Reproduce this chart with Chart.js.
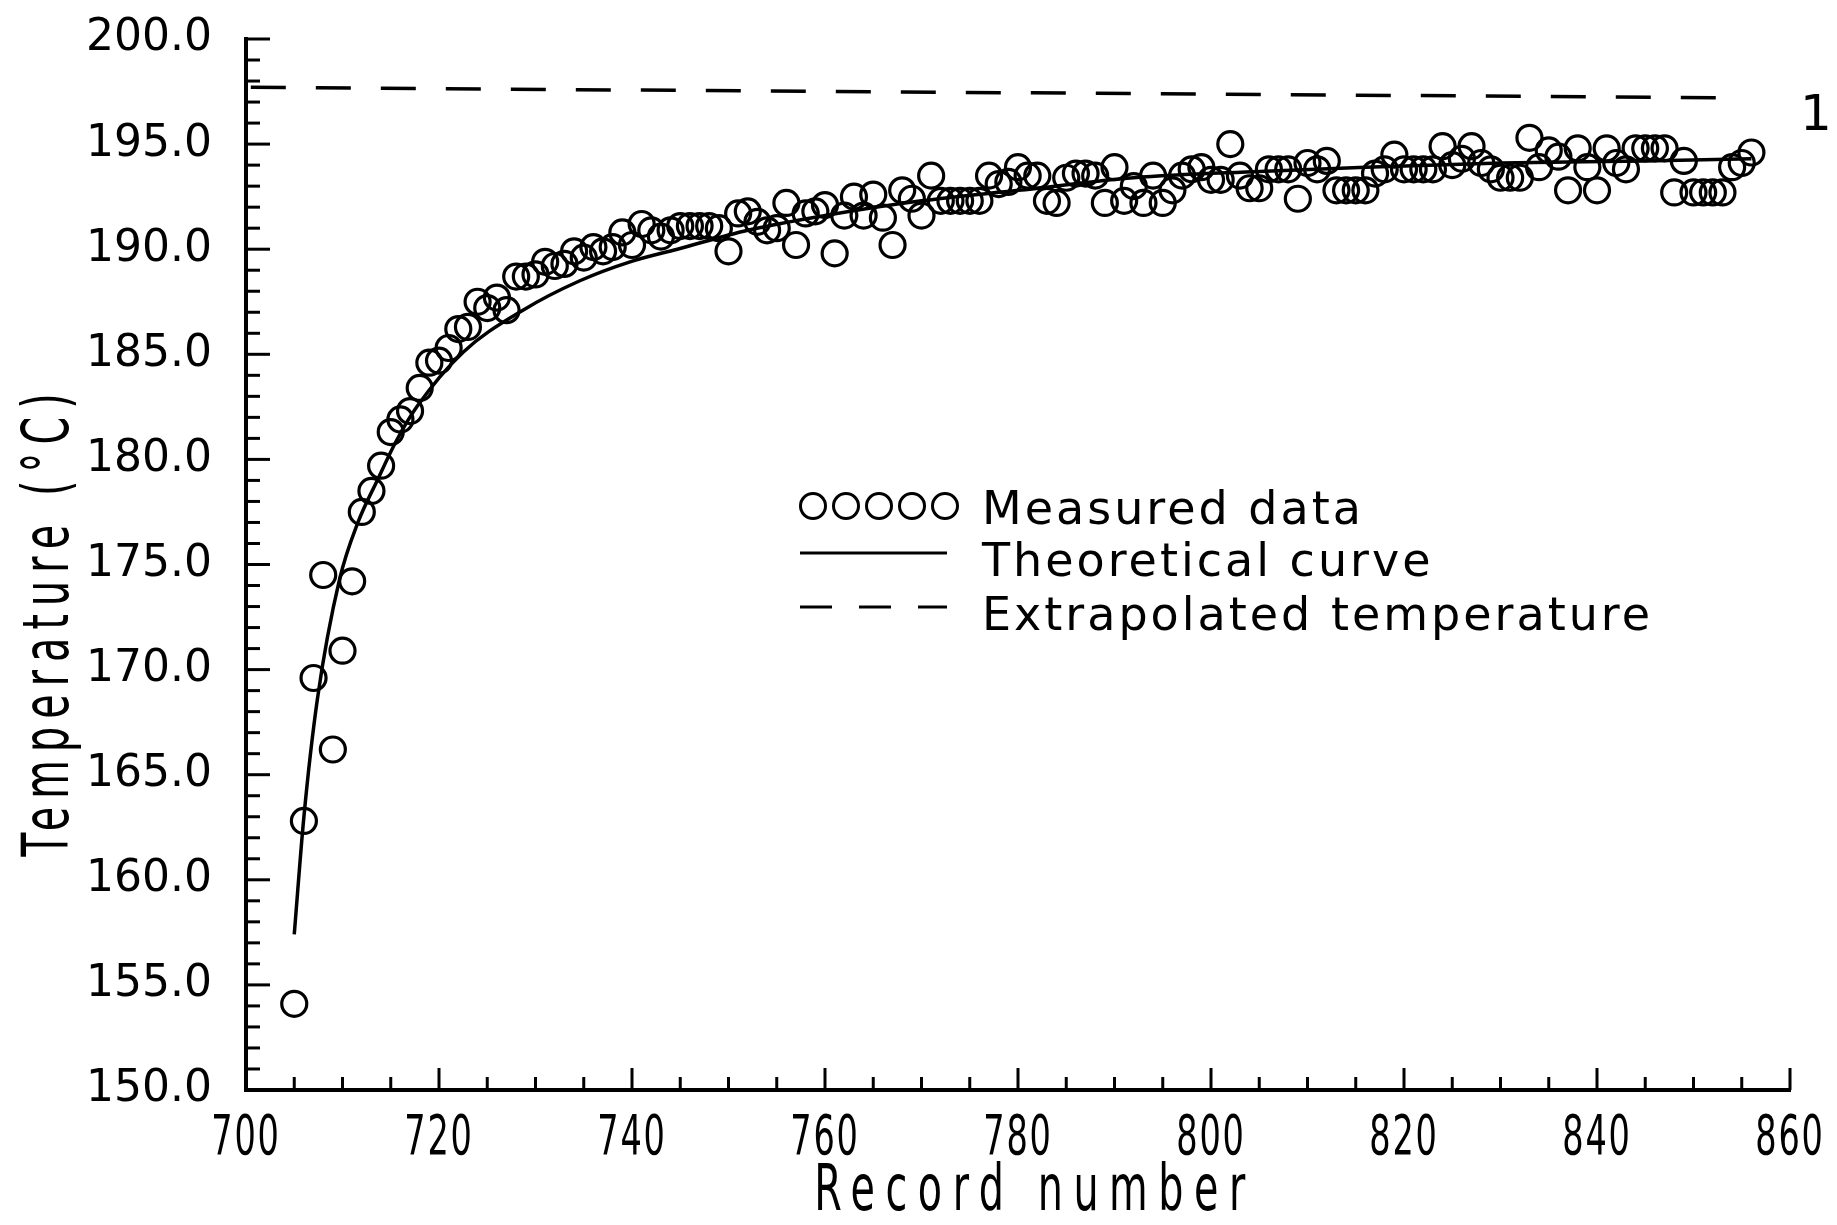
<!DOCTYPE html>
<html>
<head>
<meta charset="utf-8">
<script src="https://cdn.jsdelivr.net/npm/chart.js@4.4.1/dist/chart.umd.min.js"></script>
<style>
  html, body { margin: 0; background: #fff; }
  #wrap { width: 1837px; height: 1225px; }
</style>
</head>
<body>
<div id="wrap"><canvas id="chart" width="1837" height="1225"></canvas></div>
<script>
// measured records, one circle per record
const recordNumbers = [
  705, 706, 707, 708, 709, 710, 711, 712, 713, 714, 715, 716, 717, 718, 719, 720,
  721, 722, 723, 724, 725, 726, 727, 728, 729, 730, 731, 732, 733, 734, 735, 736,
  737, 738, 739, 740, 741, 742, 743, 744, 745, 746, 747, 748, 749, 750, 751, 752,
  753, 754, 755, 756, 757, 758, 759, 760, 761, 762, 763, 764, 765, 766, 767, 768,
  769, 770, 771, 772, 773, 774, 775, 776, 777, 778, 779, 780, 781, 782, 783, 784,
  785, 786, 787, 788, 789, 790, 791, 792, 793, 794, 795, 796, 797, 798, 799, 800,
  801, 802, 803, 804, 805, 806, 807, 808, 809, 810, 811, 812, 813, 814, 815, 816,
  817, 818, 819, 820, 821, 822, 823, 824, 825, 826, 827, 828, 829, 830, 831, 832,
  833, 834, 835, 836, 837, 838, 839, 840, 841, 842, 843, 844, 845, 846, 847, 848,
  849, 850, 851, 852, 853, 854, 855, 856
]
const measuredTemps = [
  154.1, 162.8, 169.6, 174.5, 166.2, 170.9, 174.2, 177.5, 178.5, 179.7, 181.3, 181.9, 182.3, 183.4, 184.6, 184.7,
  185.3, 186.2, 186.3, 187.5, 187.2, 187.7, 187.1, 188.7, 188.7, 188.8, 189.4, 189.2, 189.3, 189.9, 189.6, 190.1,
  189.9, 190.1, 190.8, 190.2, 191.2, 190.9, 190.6, 190.9, 191.1, 191.1, 191.1, 191.1, 191.0, 189.9, 191.7, 191.8,
  191.3, 190.9, 191.0, 192.2, 190.2, 191.7, 191.8, 192.1, 189.8, 191.6, 192.5, 191.6, 192.6, 191.5, 190.2, 192.8,
  192.4, 191.6, 193.5, 192.3, 192.3, 192.3, 192.3, 192.3, 193.5, 193.1, 193.2, 193.9, 193.5, 193.5, 192.3, 192.2,
  193.4, 193.6, 193.6, 193.5, 192.2, 193.9, 192.3, 193.0, 192.2, 193.5, 192.2, 192.8, 193.5, 193.8, 193.9, 193.3,
  193.3, 195.0, 193.5, 192.9, 192.9, 193.8, 193.8, 193.8, 192.4, 194.1, 193.8, 194.2, 192.8, 192.8, 192.8, 192.8,
  193.6, 193.8, 194.5, 193.8, 193.8, 193.8, 193.8, 194.9, 194.0, 194.3, 194.9, 194.1, 193.8, 193.4, 193.4, 193.4,
  195.3, 193.9, 194.7, 194.4, 192.8, 194.8, 193.9, 192.8, 194.8, 194.1, 193.8, 194.8, 194.8, 194.8, 194.8, 192.7,
  194.2, 192.7, 192.7, 192.7, 192.7, 193.9, 194.1, 194.6
]

// theoretical curve
const curveRecords = [705, 706, 707.4, 709.7, 711.6, 713.6, 715.6, 717.7, 722.5, 728.7, 734.6, 739.8, 744.7, 752, 760, 770, 780, 792, 805, 816, 830, 845, 856]
const curveTemps = [157.4, 163.0, 168.6, 174.3, 177.0, 179.0, 180.9, 182.5, 185.1, 187.1, 188.5, 189.4, 190.0, 190.9, 191.6, 192.3, 192.8, 193.4, 193.7, 193.9, 194.1, 194.2, 194.3]

// extrapolated temperature (dashed)
const extrapRecords = [700.5, 855]
const extrapTemps = [197.7, 197.2]

const xTickValues = [700, 720, 740, 760, 780, 800, 820, 840, 860]
const yTickValues = [150, 155, 160, 165, 170, 175, 180, 185, 190, 195, 200]

const toPoints = (xs, ys) => xs.map((x, i) => ({ x: x, y: ys[i] }))

const SANS = "'DejaVu Sans', sans-serif"

// the original uses a tall narrow face, squeeze DejaVu horizontally
function squeezedText(ctx, text, x, y, sx, spacing) {
  ctx.save()
  ctx.translate(x, y)
  ctx.scale(sx, 1)
  ctx.letterSpacing = spacing + "px"
  ctx.fillText(text, 0, 0)
  ctx.restore()
}

const inwardTicks = {
  id: "inwardTicks",
  afterDatasetsDraw(chart) {
    const { ctx, chartArea, scales } = chart
    ctx.save()
    ctx.strokeStyle = "#000"
    ctx.lineWidth = 3
    for (let v = 150; v <= 200; v++) {
      const py = scales.y.getPixelForValue(v)
      const len = v % 5 === 0 ? 24 : 14
      ctx.beginPath()
      ctx.moveTo(chartArea.left, py)
      ctx.lineTo(chartArea.left + len, py)
      ctx.stroke()
    }
    for (let v = 700; v <= 860; v += 5) {
      const px = scales.x.getPixelForValue(v)
      const len = v % 20 === 0 ? 22 : 13
      ctx.beginPath()
      ctx.moveTo(px, chartArea.bottom)
      ctx.lineTo(px, chartArea.bottom - len)
      ctx.stroke()
    }

    // x tick labels
    ctx.fillStyle = "#000"
    ctx.font = "56px " + SANS
    ctx.textAlign = "center"
    ctx.textBaseline = "alphabetic"
    xTickValues.forEach((v) => {
      squeezedText(ctx, String(v), scales.x.getPixelForValue(v), chartArea.bottom + 64, 0.6, 3)
    })
    ctx.restore()
  }
}

const textBits = {
  id: "textBits",
  afterDraw(chart) {
    const { ctx } = chart
    ctx.save()
    ctx.fillStyle = "#000"
    ctx.strokeStyle = "#000"

    // axis titles
    ctx.font = "64px " + SANS
    ctx.textAlign = "center"
    ctx.textBaseline = "alphabetic"
    squeezedText(ctx, "Record number", 1035, 1210, 0.62, 17)
    ctx.save()
    ctx.translate(68, 621)
    ctx.rotate(-Math.PI / 2)
    squeezedText(ctx, "Temperature (°C)", 0, 0, 0.62, 13)
    ctx.restore()

    // legend
    ctx.lineWidth = 3
    for (let i = 0; i < 5; i++) {
      ctx.beginPath()
      ctx.arc(813 + i * 33, 506, 12.5, 0, Math.PI * 2)
      ctx.stroke()
    }
    ctx.beginPath()
    ctx.moveTo(800, 553)
    ctx.lineTo(947, 553)
    ctx.stroke()
    ctx.setLineDash([32, 27])
    ctx.beginPath()
    ctx.moveTo(800, 607)
    ctx.lineTo(947, 607)
    ctx.stroke()
    ctx.setLineDash([])

    ctx.font = "46px " + SANS
    ctx.letterSpacing = "3px"
    ctx.textAlign = "left"
    ctx.fillText("Measured data", 982, 524)
    ctx.fillText("Theoretical curve", 982, 576)
    ctx.fillText("Extrapolated temperature", 982, 630)

    // label at the end of the dashed line
    ctx.letterSpacing = "0px"
    ctx.font = "50px " + SANS
    ctx.fillText("1", 1800, 130)
    ctx.restore()
  }
}

new Chart(document.getElementById("chart"), {
  type: "scatter",
  data: {
    datasets: [
      {
        label: "Extrapolated temperature",
        data: toPoints(extrapRecords, extrapTemps),
        showLine: true,
        borderColor: "#000",
        borderWidth: 3.5,
        borderDash: [35, 30],
        pointRadius: 0,
        fill: false,
      },
      {
        label: "Theoretical curve",
        data: toPoints(curveRecords, curveTemps),
        showLine: true,
        borderColor: "#000",
        borderWidth: 3.5,
        cubicInterpolationMode: "monotone",
        pointRadius: 0,
        fill: false,
      },
      {
        label: "Measured data",
        data: toPoints(recordNumbers, measuredTemps),
        showLine: false,
        pointStyle: "circle",
        pointRadius: 12.5,
        pointBorderWidth: 3.2,
        borderColor: "#000",
        backgroundColor: "rgba(0,0,0,0)",
      },
    ],
  },
  options: {
    responsive: false,
    animation: false,
    layout: { padding: { top: 39, right: 47, left: 0, bottom: 0 } },
    plugins: {
      legend: { display: false },
      tooltip: { enabled: false },
    },
    scales: {
      x: {
        type: "linear",
        min: 700,
        max: 860,
        afterBuildTicks: (s) => { s.ticks = xTickValues.map((v) => ({ value: v })) },
        afterFit: (s) => { s.height = 135; s.paddingLeft = 0; s.paddingRight = 0 },
        grid: { display: false, drawTicks: false },
        border: { display: true, color: "#000", width: 4 },
        ticks: { display: false },
      },
      y: {
        type: "linear",
        min: 150,
        max: 200,
        afterBuildTicks: (s) => { s.ticks = yTickValues.map((v) => ({ value: v })) },
        afterFit: (s) => { s.width = 246; s.paddingTop = 0; s.paddingBottom = 0 },
        grid: { display: false, drawTicks: false },
        border: { display: true, color: "#000", width: 4 },
        ticks: {
          color: "#000",
          padding: 34,
          font: { family: SANS, size: 44 },
          callback: (v) => v.toFixed(1),
        },
      },
    },
  },
  plugins: [inwardTicks, textBits],
})
</script>
</body>
</html>
